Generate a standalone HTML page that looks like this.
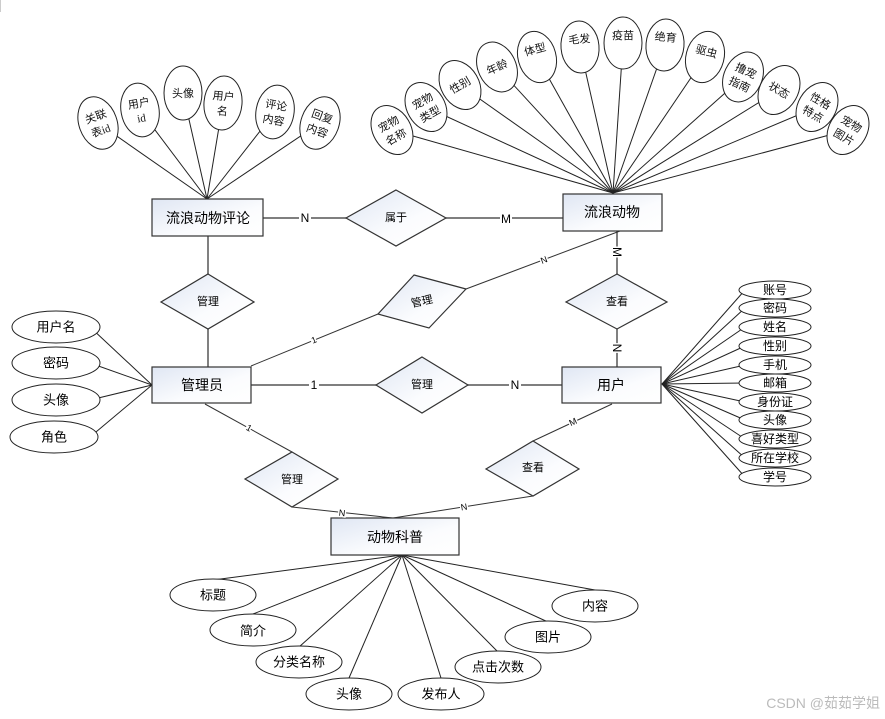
<!DOCTYPE html>
<html><head><meta charset="utf-8"><style>
html,body{margin:0;padding:0;background:#fff;}
svg{display:block;}
.bt{font-family:"Liberation Sans","Noto Sans CJK SC",sans-serif;font-size:14px;fill:#000;text-anchor:middle;dominant-baseline:central;}
.dt{font-family:"Liberation Sans","Noto Sans CJK SC",sans-serif;font-size:11px;fill:#000;text-anchor:middle;dominant-baseline:central;}
.at{font-family:"Liberation Sans","Noto Sans CJK SC",sans-serif;font-size:13px;fill:#000;text-anchor:middle;dominant-baseline:central;}
.ut{font-family:"Liberation Sans","Noto Sans CJK SC",sans-serif;font-size:12px;fill:#000;text-anchor:middle;dominant-baseline:central;}
.st{font-family:"Liberation Serif","Noto Sans CJK SC",serif;font-size:11px;font-weight:400;fill:#111;stroke:none;text-anchor:middle;}
.lb{font-family:"Liberation Sans",sans-serif;font-size:12px;fill:#000;text-anchor:middle;dominant-baseline:central;}
.sl{font-family:"Liberation Sans",sans-serif;font-size:9px;fill:#000;text-anchor:middle;dominant-baseline:central;}
</style></head><body>
<svg width="885" height="719" viewBox="0 0 885 719" xmlns="http://www.w3.org/2000/svg">
<defs>
<linearGradient id="g" x1="0" y1="0" x2="1" y2="1"><stop offset="0" stop-color="#dfe6f3"/><stop offset="0.6" stop-color="#fbfcfe"/><stop offset="1" stop-color="#ffffff"/></linearGradient>
</defs>
<line x1="0.5" y1="0" x2="0.5" y2="12" stroke="#ccc"/>
<g stroke="#222" stroke-width="1" fill="none">
<line x1="613" y1="193" x2="392" y2="130"/><line x1="613" y1="193" x2="426" y2="107"/>
<line x1="613" y1="193" x2="460" y2="85"/><line x1="613" y1="193" x2="497" y2="67"/>
<line x1="613" y1="193" x2="537" y2="57"/><line x1="613" y1="193" x2="580" y2="47"/>
<line x1="613" y1="193" x2="623" y2="43"/><line x1="613" y1="193" x2="665" y2="45"/>
<line x1="613" y1="193" x2="705" y2="57"/><line x1="613" y1="193" x2="743" y2="77"/>
<line x1="613" y1="193" x2="779" y2="90"/><line x1="613" y1="193" x2="817" y2="107"/>
<line x1="613" y1="193" x2="848" y2="130"/>
<line x1="207" y1="199" x2="98" y2="123"/><line x1="207" y1="199" x2="140" y2="110"/>
<line x1="207" y1="199" x2="183" y2="93"/><line x1="207" y1="199" x2="223" y2="103"/>
<line x1="207" y1="199" x2="275" y2="112"/><line x1="207" y1="199" x2="320" y2="123"/>
<line x1="152" y1="385" x2="90" y2="327"/><line x1="152" y1="385" x2="90" y2="363"/>
<line x1="152" y1="385" x2="90" y2="400"/><line x1="152" y1="385" x2="90" y2="437"/>
<line x1="662" y1="384" x2="745" y2="290"/><line x1="662" y1="384" x2="745" y2="308"/>
<line x1="662" y1="384" x2="745" y2="327"/><line x1="662" y1="384" x2="745" y2="346"/>
<line x1="662" y1="384" x2="745" y2="365"/><line x1="662" y1="384" x2="745" y2="383"/>
<line x1="662" y1="384" x2="745" y2="402"/><line x1="662" y1="384" x2="745" y2="420"/>
<line x1="662" y1="384" x2="745" y2="439"/><line x1="662" y1="384" x2="745" y2="458"/>
<line x1="662" y1="384" x2="745" y2="477"/>
<line x1="402" y1="555" x2="213" y2="580"/><line x1="402" y1="555" x2="253" y2="614"/>
<line x1="402" y1="555" x2="299" y2="647"/><line x1="402" y1="555" x2="349" y2="678"/>
<line x1="402" y1="555" x2="441" y2="678"/><line x1="402" y1="555" x2="498" y2="652"/>
<line x1="402" y1="555" x2="548" y2="622"/><line x1="402" y1="555" x2="595" y2="590"/>
</g>
<g stroke="#555" stroke-width="1.5" fill="none">
<line x1="263" y1="218" x2="346" y2="218"/><line x1="446" y1="218" x2="563" y2="218"/>
<line x1="208" y1="236" x2="208" y2="274"/><line x1="208" y1="329" x2="208" y2="367"/>
<line x1="617" y1="231" x2="617" y2="274"/><line x1="617" y1="329" x2="617" y2="367"/>
<line x1="251" y1="385" x2="376" y2="385"/><line x1="468" y1="385" x2="562" y2="385"/>
</g>
<g stroke="#333" stroke-width="1" fill="none">
<line x1="251" y1="366" x2="378" y2="314"/><line x1="466" y1="289" x2="620" y2="231"/>
<line x1="205" y1="404" x2="292" y2="452"/><line x1="292" y1="507" x2="393" y2="518"/>
<line x1="612" y1="404" x2="533" y2="441"/><line x1="533" y1="496" x2="393" y2="518"/>
</g>
<g stroke="#333" stroke-width="1.2" fill="url(#g)">
<rect x="152" y="199" width="111" height="37"/>
<rect x="563" y="194" width="99" height="37"/>
<rect x="152" y="367" width="99" height="36"/>
<rect x="562" y="367" width="99" height="36"/>
<rect x="331" y="518" width="128" height="37"/>
<polygon points="396,190 446,218 396,246 346,218"/>
<polygon points="208,274 254,302 208,329 161,302"/>
<polygon points="414,275 466,289 429,328 378,314"/>
<polygon points="617,274 667,302 617,329 566,302"/>
<polygon points="422,357 468,385 422,413 376,385"/>
<polygon points="292,452 338,479 292,507 245,479"/>
<polygon points="533,441 579,469 533,496 486,469"/>
</g>
<text class="bt" x="208" y="218">流浪动物评论</text>
<text class="bt" x="612" y="212">流浪动物</text>
<text class="bt" x="202" y="385">管理员</text>
<text class="bt" x="611" y="385">用户</text>
<text class="bt" x="395" y="537">动物科普</text>
<text class="dt" x="396" y="218">属于</text>
<text class="dt" x="208" y="302">管理</text>
<text class="dt" x="422" y="302" transform="rotate(-12 422 302)">管理</text>
<text class="dt" x="617" y="302">查看</text>
<text class="dt" x="422" y="385">管理</text>
<text class="dt" x="292" y="480">管理</text>
<text class="dt" x="533" y="468">查看</text>
<g>
<rect x="299" y="211" width="12" height="14" fill="#fff"/><text class="lb" x="305" y="218">N</text>
<rect x="500" y="211" width="12" height="14" fill="#fff"/><text class="lb" x="506" y="219">M</text>
<rect x="309" y="378" width="10" height="14" fill="#fff"/><text class="lb" x="314" y="385">1</text>
<rect x="509" y="378" width="12" height="14" fill="#fff"/><text class="lb" x="515" y="385">N</text>
<text class="lb" x="617" y="252" transform="rotate(90 617 252)" style="paint-order:stroke;stroke:#fff;stroke-width:3px">M</text>
<text class="lb" x="617" y="348" transform="rotate(90 617 348)" style="paint-order:stroke;stroke:#fff;stroke-width:3px">N</text>
<text class="sl" x="314" y="340" transform="rotate(-22 314 340)" style="paint-order:stroke;stroke:#fff;stroke-width:3px">1</text>
<text class="sl" x="544" y="260" transform="rotate(-21 544 260)" style="paint-order:stroke;stroke:#fff;stroke-width:3px">N</text>
<text class="sl" x="249" y="428" transform="rotate(29 249 428)" style="paint-order:stroke;stroke:#fff;stroke-width:3px">1</text>
<text class="sl" x="573" y="422" transform="rotate(-25 573 422)" style="paint-order:stroke;stroke:#fff;stroke-width:3px">M</text>
<text class="sl" x="342" y="513" transform="rotate(6 342 513)" style="paint-order:stroke;stroke:#fff;stroke-width:3px">N</text>
<text class="sl" x="464" y="507" transform="rotate(-9 464 507)" style="paint-order:stroke;stroke:#fff;stroke-width:3px">N</text>
</g>
<g stroke="#222" stroke-width="1" fill="#fff">
<g transform="translate(392,130) rotate(-30)"><ellipse rx="19" ry="26"/><text class="st" y="-3">宠物</text><text class="st" y="12">名称</text></g>
<g transform="translate(426,107) rotate(-30)"><ellipse rx="19" ry="26"/><text class="st" y="-3">宠物</text><text class="st" y="12">类型</text></g>
<g transform="translate(460,85) rotate(-30)"><ellipse rx="19" ry="26"/><text class="st" y="4">性别</text></g>
<g transform="translate(497,67) rotate(-25)"><ellipse rx="19" ry="26"/><text class="st" y="4">年龄</text></g>
<g transform="translate(537,57) rotate(-15)"><ellipse rx="19" ry="26"/><text class="st" y="-4">体型</text></g>
<g transform="translate(580,47) rotate(-5)"><ellipse rx="19" ry="26"/><text class="st" y="-4">毛发</text></g>
<g transform="translate(623,43) rotate(0)"><ellipse rx="19" ry="26"/><text class="st" y="-4">疫苗</text></g>
<g transform="translate(665,45) rotate(5)"><ellipse rx="19" ry="26"/><text class="st" y="-4">绝育</text></g>
<g transform="translate(705,57) rotate(15)"><ellipse rx="19" ry="26"/><text class="st" y="-2">驱虫</text></g>
<g transform="translate(743,77) rotate(25)"><ellipse rx="19" ry="26"/><text class="st" y="-3">撸宠</text><text class="st" y="12">指南</text></g>
<g transform="translate(779,90) rotate(30)"><ellipse rx="19" ry="26"/><text class="st" y="4">状态</text></g>
<g transform="translate(817,107) rotate(30)"><ellipse rx="19" ry="26"/><text class="st" y="-3">性格</text><text class="st" y="12">特点</text></g>
<g transform="translate(848,130) rotate(30)"><ellipse rx="19" ry="26"/><text class="st" y="-3">宠物</text><text class="st" y="12">图片</text></g>
<g transform="translate(98,123) rotate(-20)"><ellipse rx="19" ry="27"/><text class="st" y="-3">关联</text><text class="st" y="12">表id</text></g>
<g transform="translate(140,110) rotate(-10)"><ellipse rx="19" ry="27"/><text class="st" y="-3">用户</text><text class="st" y="12">id</text></g>
<g transform="translate(183,93) rotate(0)"><ellipse rx="19" ry="27"/><text class="st" y="4">头像</text></g>
<g transform="translate(223,103) rotate(5)"><ellipse rx="19" ry="27"/><text class="st" y="-3">用户</text><text class="st" y="12">名</text></g>
<g transform="translate(275,112) rotate(10)"><ellipse rx="19" ry="27"/><text class="st" y="-3">评论</text><text class="st" y="12">内容</text></g>
<g transform="translate(320,123) rotate(20)"><ellipse rx="19" ry="27"/><text class="st" y="-3">回复</text><text class="st" y="12">内容</text></g>
<ellipse cx="56" cy="327" rx="44" ry="16"/><ellipse cx="56" cy="363" rx="44" ry="16"/>
<ellipse cx="56" cy="400" rx="44" ry="16"/><ellipse cx="54" cy="437" rx="44" ry="16"/>
<ellipse cx="775" cy="290" rx="36" ry="9"/><ellipse cx="775" cy="308" rx="36" ry="9"/>
<ellipse cx="775" cy="327" rx="36" ry="9"/><ellipse cx="775" cy="346" rx="36" ry="9"/>
<ellipse cx="775" cy="365" rx="36" ry="9"/><ellipse cx="775" cy="383" rx="36" ry="9"/>
<ellipse cx="775" cy="402" rx="36" ry="9"/><ellipse cx="775" cy="420" rx="36" ry="9"/>
<ellipse cx="775" cy="439" rx="36" ry="9"/><ellipse cx="775" cy="458" rx="36" ry="9"/>
<ellipse cx="775" cy="477" rx="36" ry="9"/>
<ellipse cx="213" cy="595" rx="43" ry="16"/><ellipse cx="253" cy="630" rx="43" ry="16"/>
<ellipse cx="299" cy="662" rx="43" ry="16"/><ellipse cx="349" cy="694" rx="43" ry="16"/>
<ellipse cx="441" cy="694" rx="43" ry="16"/><ellipse cx="498" cy="667" rx="43" ry="16"/>
<ellipse cx="548" cy="637" rx="43" ry="16"/><ellipse cx="595" cy="606" rx="43" ry="16"/>
</g>
<text class="at" x="56" y="327">用户名</text><text class="at" x="56" y="363">密码</text>
<text class="at" x="56" y="400">头像</text><text class="at" x="54" y="437">角色</text>
<text class="ut" x="775" y="290">账号</text><text class="ut" x="775" y="308">密码</text>
<text class="ut" x="775" y="327">姓名</text><text class="ut" x="775" y="346">性别</text>
<text class="ut" x="775" y="365">手机</text><text class="ut" x="775" y="383">邮箱</text>
<text class="ut" x="775" y="402">身份证</text><text class="ut" x="775" y="420">头像</text>
<text class="ut" x="775" y="439">喜好类型</text><text class="ut" x="775" y="458">所在学校</text>
<text class="ut" x="775" y="477">学号</text>
<text class="at" x="213" y="595">标题</text><text class="at" x="253" y="631">简介</text>
<text class="at" x="299" y="662">分类名称</text><text class="at" x="349" y="694">头像</text>
<text class="at" x="441" y="694">发布人</text><text class="at" x="498" y="667">点击次数</text>
<text class="at" x="548" y="637">图片</text><text class="at" x="595" y="606">内容</text>
<text x="880" y="708" style="font-family:'Liberation Sans','Noto Sans CJK SC',sans-serif;font-size:14px;fill:#bbb;text-anchor:end">CSDN @茹茹学姐</text>
</svg>
</body></html>
